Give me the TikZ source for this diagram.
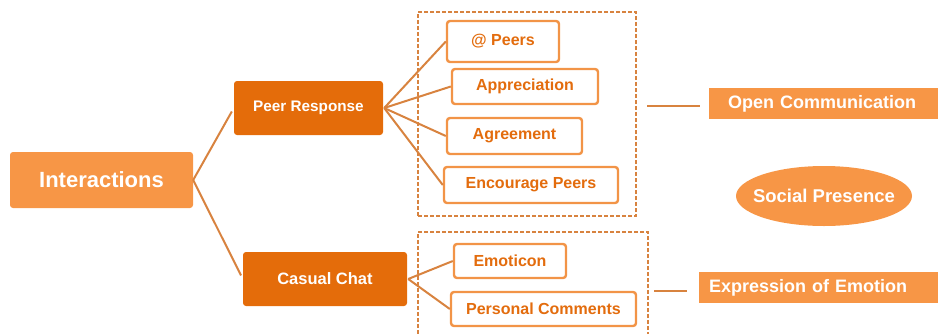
\documentclass[tikz,border=0pt]{standalone}
\usepackage{fontspec}
\setmainfont{Liberation Sans}
\usetikzlibrary{shapes.geometric}
\definecolor{lightor}{HTML}{F79646}
\definecolor{darkor}{HTML}{E46C0A}
\definecolor{boxline}{HTML}{F29447}
\definecolor{boxtext}{HTML}{E36C0D}
\definecolor{conn}{HTML}{D8833F}
\tikzset{
  mainbox/.style={rectangle, rounded corners=3pt, fill=lightor, text=white, font=\bfseries\fontsize{22}{26}\selectfont, inner sep=0pt},
  midbox/.style={rectangle, rounded corners=3pt, fill=darkor, text=white, inner sep=0pt},
  leafbox/.style={rectangle, rounded corners=3pt, draw=boxline, line width=2.4pt, fill=white, text=boxtext, font=\bfseries\fontsize{16}{19}\selectfont, inner sep=0pt},
  groupbox/.style={rectangle, draw=conn, line width=1.4pt, dash pattern=on 4pt off 2pt, inner sep=0pt},
  tagbox/.style={rectangle, fill=lightor, text=white, font=\bfseries\fontsize{18}{21}\selectfont, anchor=west, align=left, minimum height=31pt, inner ysep=0pt},
  conline/.style={draw=conn, line width=2pt},
}
\begin{document}
\begin{tikzpicture}[x=1pt,y=-1pt]
\useasboundingbox (0,0) rectangle (938,333);
\clip (0,0) rectangle (938,333);
% group boxes
\node[groupbox, minimum width=218pt, minimum height=204pt] (g1) at (527,114) {};
\node[groupbox, minimum width=230pt, minimum height=108pt] (g2) at (533,286) {};
% main nodes
\node[mainbox, minimum width=183pt, minimum height=56pt] (inter) at (101.5,180) {Interactions};
\node[midbox, minimum width=149pt, minimum height=54pt, font=\bfseries\fontsize{15.3}{18}\selectfont] (pr) at (308.5,108) {Peer Response};
\node[midbox, minimum width=164pt, minimum height=54pt, font=\bfseries\fontsize{16.5}{19}\selectfont] (cc) at (325,279) {Casual Chat};
% leaves
\node[leafbox, minimum width=112pt, minimum height=41pt] (peers) at (503,41.5) {@ Peers};
\node[leafbox, minimum width=146pt, minimum height=35pt] (appr) at (525,86.5) {Appreciation};
\node[leafbox, minimum width=135pt, minimum height=36pt] (agree) at (514.5,136) {Agreement};
\node[leafbox, minimum width=174pt, minimum height=36pt] (enc) at (531,185) {Encourage Peers};
\node[leafbox, minimum width=112pt, minimum height=34pt] (emo) at (510,261) {Emoticon};
\node[leafbox, minimum width=185pt, minimum height=34pt] (pers) at (543.5,309) {Personal Comments};
% tags
\node[tagbox, inner xsep=19pt, text width=212pt] (oc) at (709,103.5) {Open Communication};
\node[tagbox, inner xsep=10pt, text width=230pt] (ee) at (699,287.5) {Expression of Emotion};
\node[ellipse, fill=lightor, text=white, font=\bfseries\fontsize{18.5}{22}\selectfont, minimum width=176pt, minimum height=60pt, inner xsep=-10pt, inner ysep=0pt] (sp) at (824,196) {Social Presence};
% connectors
\draw[conline, shorten >=4pt] (inter.east) -- (pr.west);
\draw[conline, shorten >=4pt] (inter.east) -- (cc.west);
\foreach \t in {peers,appr,agree,enc} {
  \draw[conline] ([xshift=1pt]pr.east) -- (\t.west);
}
\foreach \t in {emo,pers} {
  \draw[conline] ([xshift=1pt]cc.east) -- (\t.west);
}
\coordinate (a1) at (647,106);
\coordinate (a2) at (654,291);
\coordinate (b1) at ([xshift=-9pt]oc.west);
\coordinate (b2) at ([xshift=-12pt]ee.west);
\draw[conline] (a1) -- (a1 -| b1);
\draw[conline] (a2) -- (a2 -| b2);
\end{tikzpicture}
\end{document}
